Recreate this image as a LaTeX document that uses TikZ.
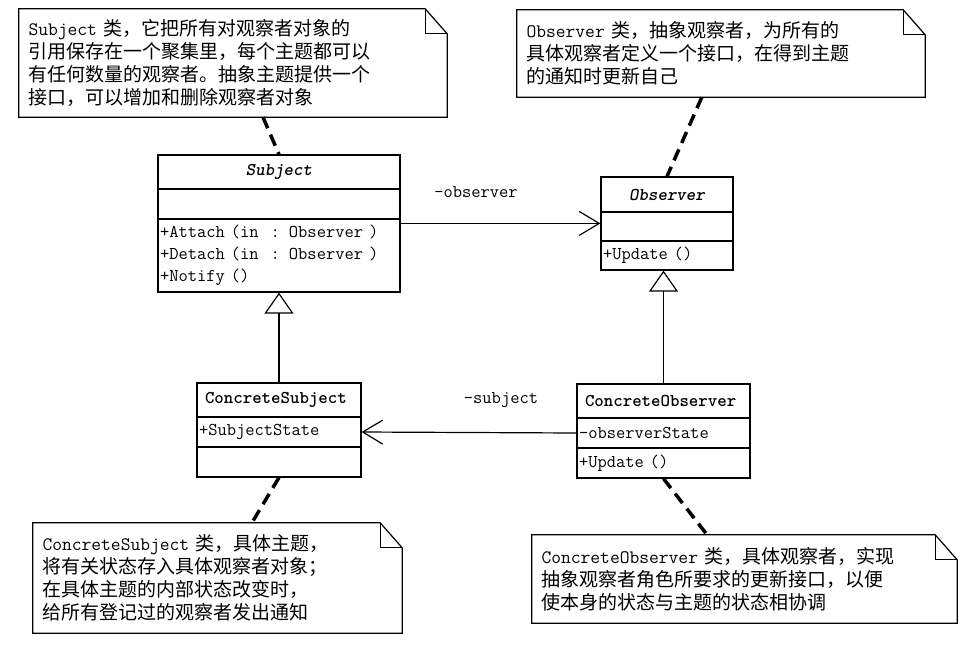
\documentclass[tikz,border=0pt]{standalone}
\usepackage{fontspec}
\newfontfamily\cjk{Noto Sans CJK SC}
\usetikzlibrary{arrows.meta,calc}
\newcommand\drawnote[1]{%
  \draw[noteline] (#1.south west) -- (#1.north west) -- ([xshift=-22pt]#1.north east)
    -- ([yshift=-25pt]#1.north east) -- (#1.south east) -- cycle;
  \draw[noteline] ([xshift=-22pt]#1.north east) |- ([yshift=-25pt]#1.north east);}
\begin{document}
\begin{tikzpicture}[x=1pt,y=-1pt,
  cls/.style={draw, line width=1.2pt, inner xsep=2pt, inner ysep=0pt,
    font=\ttfamily\fontsize{18}{22}\selectfont},
  notebox/.style={inner xsep=9.5pt, inner ysep=0pt, align=left,
    font=\cjk\fontsize{19}{23}\selectfont},
  noteline/.style={line width=1.2pt},
  notelink/.style={line width=3.5pt, dash pattern=on 12pt off 7pt},
  lbl/.style={inner sep=0pt, font=\ttfamily\fontsize{18}{22}\selectfont},
  assoc/.style={line width=1.2pt, -{Straight Barb[length=20pt,width=24pt]}},
  gen/.style={line width=1.2pt, -{Triangle[open,length=21pt,width=29pt]}}]
\useasboundingbox (0,0) rectangle (972,646);

% Subject
\node[cls, minimum height=34pt, text width=238pt, align=center] (subjT) at (279,172) {\bfseries\itshape Subject};
\node[cls, minimum height=30pt, text width=238pt] (subjA) at (279,204) {};
\node[cls, minimum height=73pt, text width=238pt, align=left] (subjO) at (279,255.5)
  {+Attach (in~~: Observer~)\\+Detach (in~~: Observer~)\\+Notify ()};

% Observer
\node[cls, minimum height=35pt, text width=128pt, align=center] (obsT) at (667,194.5) {\bfseries\itshape Observer};
\node[cls, minimum height=29pt, text width=128pt] (obsA) at (667,226.5) {};
\node[cls, minimum height=29pt, text width=128pt, align=left] (obsO) at (667,255.5) {+Update ()};

% ConcreteSubject
\node[cls, inner xsep=8pt, minimum height=34pt, text width=148pt, align=left] (csT) at (279,400) {\bfseries ConcreteSubject};
\node[cls, minimum height=30pt, text width=160pt, align=left] (csA) at (279,432) {+SubjectState};
\node[cls, minimum height=30pt, text width=160pt] (csO) at (279,462) {};

% ConcreteObserver
\node[cls, inner xsep=8pt, minimum height=34pt, text width=157pt, align=left] (coT) at (663.5,401) {\bfseries ConcreteObserver};
\node[cls, minimum height=30pt, text width=169pt, align=left] (coA) at (663.5,433) {-observerState};
\node[cls, minimum height=30pt, text width=169pt, align=left] (coO) at (663.5,463) {+Update ()};

% notes
\node[notebox, minimum height=108pt, text width=409pt] (note1) at (233,63)
  {{\ttfamily Subject} 类，它把所有对观察者对象的\\引用保存在一个聚集里，每个主题都可以\\有任何数量的观察者。抽象主题提供一个\\接口，可以增加和删除观察者对象};
\node[notebox, minimum height=87pt, text width=389pt] (note2) at (721,53.5)
  {{\ttfamily Observer} 类，抽象观察者，为所有的\\具体观察者定义一个接口，在得到主题\\的通知时更新自己};
\node[notebox, minimum height=110pt, text width=350pt] (note3) at (217.5,578)
  {{\ttfamily ConcreteSubject} 类，具体主题，\\将有关状态存入具体观察者对象；\\在具体主题的内部状态改变时，\\给所有登记过的观察者发出通知};
\node[notebox, minimum height=88pt, text width=406pt] (note4) at (744.5,579)
  {{\ttfamily ConcreteObserver} 类，具体观察者，实现\\抽象观察者角色所要求的更新接口，以便\\使本身的状态与主题的状态相协调};
\drawnote{note1}
\drawnote{note2}
\drawnote{note3}
\drawnote{note4}

% labels
\node[lbl] (lobs) at (476,192) {-observer};
\node[lbl] (lsub) at (501,400) {-subject};

% connectors
\draw[assoc] ([yshift=-5pt]subjO.north east) coordinate (a1) -- (a1 -| obsA.west);
\draw[assoc] (coA.west) -- (csA.east);
\draw[gen] (csT.north) -- (subjO.south);
\draw[gen] (coT.north) -- (coT.north |- obsO.south);

\draw[notelink] ($(note1.south west)!0.57!(note1.south east)$) -- (subjT.north);
\draw[notelink] ($(note2.south west)!0.453!(note2.south east)$) -- (obsT.north);
\draw[notelink] (csO.south) -- ($(note3.north west)!0.593!(note3.north east)$);
\draw[notelink] (coO.south) -- ($(note4.north west)!0.412!(note4.north east)$);
\end{tikzpicture}
\end{document}
